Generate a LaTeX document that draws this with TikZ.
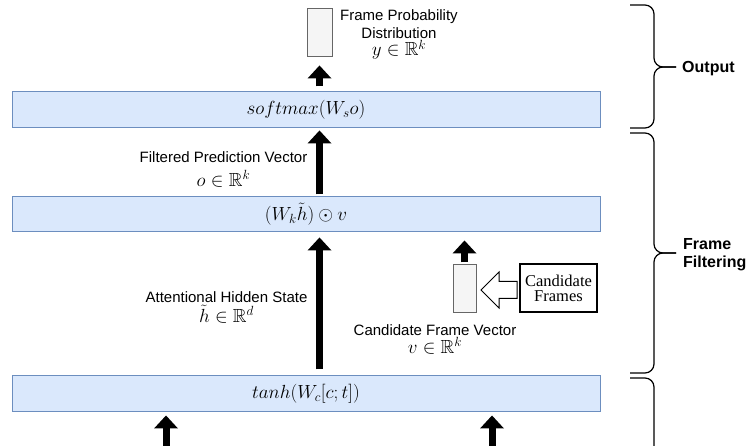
\RequirePackage{fix-cm}
\documentclass[tikz,border=0pt]{standalone}
\usepackage{amssymb}
\usepackage[no-math]{fontspec}
\setmainfont{Liberation Serif}
\setsansfont{Liberation Sans}
\usetikzlibrary{arrows.meta}
\definecolor{boxfill}{HTML}{DAE8FC}
\definecolor{boxline}{HTML}{6C8EBF}
\definecolor{vecfill}{HTML}{F5F5F5}
\definecolor{vecline}{HTML}{666666}
\tikzset{
  lbl/.style={font=\fontsize{15}{17.5}\selectfont\sffamily, inner sep=0pt, anchor=base},
  blbl/.style={font=\fontsize{16}{17.5}\selectfont\sffamily\bfseries, inner sep=0pt, anchor=base west},
  mlbl/.style={font=\fontsize{19}{21}\selectfont, inner sep=0pt, anchor=base},
  layer/.style={draw=boxline, fill=boxfill, line width=1pt, minimum width=588pt, minimum height=36pt, inner sep=0pt, font=\fontsize{19}{21}\selectfont},
  vecbox/.style={draw=vecline, fill=vecfill, line width=1pt, inner sep=0pt},
  bigarrow/.style={line width=7pt, -{Triangle[width=24pt,length=13pt,line width=0pt]}},
  bracepath/.style={line width=1.2pt, rounded corners=9pt},
}
\begin{document}
\begin{tikzpicture}[x=1pt,y=-1pt]
\useasboundingbox (0,0) rectangle (748,446);

% layers
\node[layer] (soft) at (306,110) {$softmax(W_s o)$};
\node[layer, minimum height=35pt] (filt) at (306,214.5) {$(W_k\tilde{h})\odot v$};
\node[layer] (tanhl) at (306,394) {$tanh(W_c[c;t])$};

% vectors
\node[vecbox, minimum width=25pt, minimum height=48pt] (yvec) at (319.5,33) {};
\node[vecbox, minimum width=23pt, minimum height=48pt] (vvec) at (464.5,289) {};
\node[draw, line width=1.2pt, minimum width=77pt, minimum height=48pt, align=center,
      font=\fontsize{16.5}{15}\selectfont\rmfamily, inner sep=0pt] (cand) at (558.5,288) {Candidate\\Frames};

% free ends of the bottom arrows
\coordinate (in1) at (166,446);
\coordinate (in2) at (492,446);

% thick arrows
\draw[bigarrow, shorten <=5pt, shorten >=8pt] (soft.north -| yvec) -- (yvec.south);
\draw[bigarrow, shorten <=2pt, shorten >=2pt] (filt.north -| yvec) -- (soft.south -| yvec);
\draw[bigarrow, shorten <=6pt, shorten >=5pt] (tanhl.north -| yvec) -- (filt.south -| yvec);
\draw[bigarrow, shorten <=2pt, shorten >=8pt] (vvec.north) -- (filt.south -| vvec);
\draw[bigarrow, shorten >=3pt] (in1) -- (tanhl.south -| in1);
\draw[bigarrow, shorten >=3pt] (in2) -- (tanhl.south -| in2);

% hollow arrow from candidate frames to vector
\draw[line width=1pt, fill=white] (481,290) -- (499,272) -- (499,281.5) -- (517,281.5)
  -- (517,298.5) -- (499,298.5) -- (499,308) -- cycle;

% labels
\node[lbl] (fp1) at (399,20.7) {Frame Probability};
\node[lbl] (fp2) at (399,38.5) {Distribution};
\node[mlbl] (fp3) at (399,56) {$y\in\mathbb{R}^k$};

\node[lbl] (fv1) at (223.5,163) {Filtered Prediction Vector};
\node[mlbl] (fv2) at (223.5,186.5) {$o\in\mathbb{R}^k$};

\node[lbl] (ah1) at (226.5,302.5) {Attentional Hidden State};
\node[mlbl] (ah2) at (226.5,322.5) {$\tilde{h}\in\mathbb{R}^d$};

\node[lbl] (cv1) at (435,336) {Candidate Frame Vector};
\node[mlbl] (cv2) at (435,353.5) {$v\in\mathbb{R}^k$};

% braces
\draw[bracepath] (630,5) -- (654,5) -- (654,67) -- (676,67);
\draw[bracepath] (676,67) -- (654,67) -- (654,128) -- (630,128);
\node[blbl] (outl) at (682,72.5) {Output};

\draw[bracepath] (630,133) -- (654,133) -- (654,253) -- (676,253);
\draw[bracepath] (676,253) -- (654,253) -- (654,373) -- (630,373);
\node[blbl] (ff1) at (683,250) {Frame};
\node[blbl] (ff2) at (683,267.5) {Filtering};

\draw[bracepath] (630,378) -- (654,378) -- (654,452);
\end{tikzpicture}
\end{document}
